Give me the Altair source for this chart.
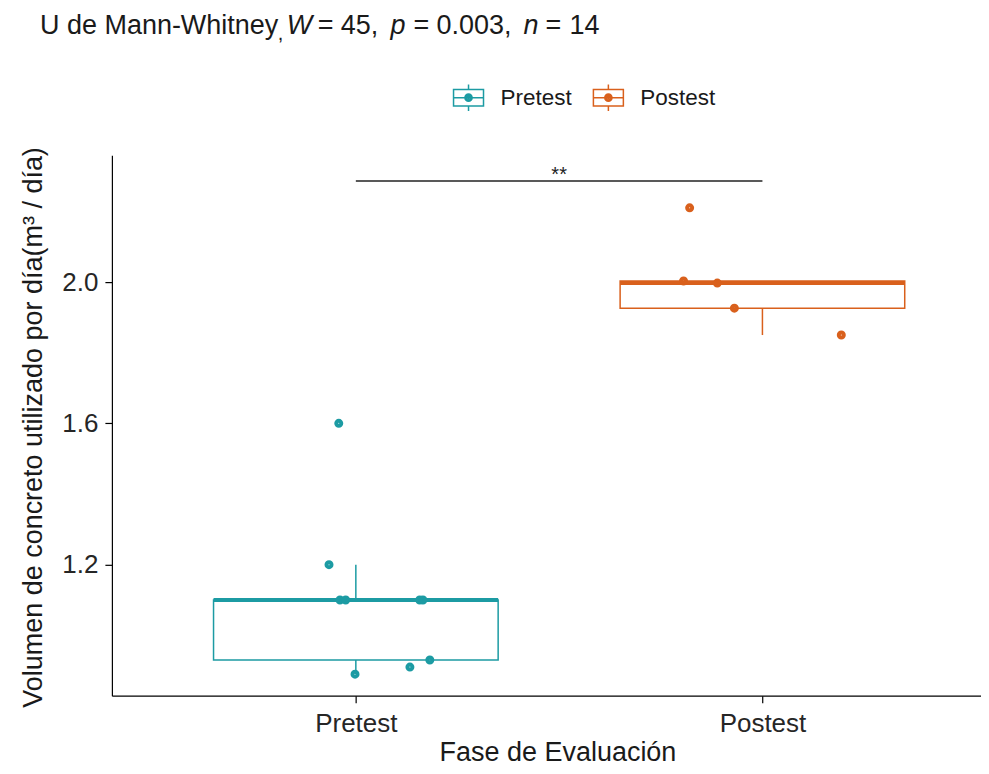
import altair as alt
import numpy as np
import pandas as pd

# ---------------- data ----------------
fases = ["Pretest", "Postest"]
colores = ["#1C9BA3", "#D9601C"]
posiciones = [1, 2]

pre_vol = [1.60, 1.20, 1.10, 1.10, 1.10, 1.10, 0.93, 0.91, 0.89]
pre_jit = [0.958, 0.934, 0.961, 0.975, 1.157, 1.165, 1.182, 1.133, 0.998]
post_vol = [2.21, 2.003, 1.997, 1.926, 1.85]
post_jit = [1.821, 1.806, 1.889, 1.931, 2.194]

y_ticks = [1.2, 1.6, 2.0]
bracket_y = [2.286]
signif = "**"

FONT = "Liberation Sans"
PAD_L, PAD_T, PAD_B = 104, 147, 70
W, H = 870, 541
X0 = 0.4
X1 = X0 + W / 407.0
Y0, Y1 = 0.829, 2.359

# ---------------- tables ----------------
pts = pd.DataFrame({
    "fase": ["Pretest"] * len(pre_vol) + ["Postest"] * len(post_vol),
    "vol": pre_vol + post_vol,
    "pos": pre_jit + post_jit,
})


def resumen(vals, pos, fase):
    v = np.array(vals)
    q1, med, q3 = np.percentile(v, [25, 50, 75])
    iqr = q3 - q1
    lo = v[v >= q1 - 1.5 * iqr].min()
    hi = v[v <= q3 + 1.5 * iqr].max()
    return dict(fase=fase, pos=pos, x1=pos - 0.35, x2=pos + 0.35,
                q1=q1, med=med, q3=q3, lo=lo, hi=hi)


box_df = pd.DataFrame([resumen(pre_vol, posiciones[0], fases[0]),
                       resumen(post_vol, posiciones[1], fases[1])])

br_df = pd.DataFrame({"x1": [posiciones[0]], "x2": [posiciones[1]],
                      "xm": [(posiciones[0] + posiciones[1]) / 2],
                      "y": bracket_y, "lab": [signif]})

# ---------------- scales / axes ----------------
xs = alt.Scale(domain=[X0, X1], nice=False, zero=False)
ys = alt.Scale(domain=[Y0, Y1], nice=False, zero=False)
cs = alt.Scale(domain=fases, range=colores)

x_axis = alt.Axis(values=posiciones,
                  labelExpr="datum.value == 1 ? 'Pretest' : 'Postest'",
                  title="Fase de Evaluación", titleX=446, titleY=57,
                  titleAlign="center", titleBaseline="middle",
                  labelPadding=8, tickSize=7)
y_axis = alt.Axis(values=y_ticks, format=".1f",
                  title="Volumen de concreto utilizado por día(m³ / día)",
                  titleX=-78, titleY=272, titleAngle=270,
                  titleAlign="center", titleBaseline="middle",
                  labelPadding=7, tickSize=7)

box_path = ("M-1,-0.55 L1,-0.55 L1,0.55 L-1,0.55 Z "
            "M-1,0 L1,0 M0,-0.55 L0,-0.88 M0,0.55 L0,0.88 "
            "M0.24,0 A0.24,0.24 0 1,1 -0.24,0 A0.24,0.24 0 1,1 0.24,0 "
            "M0.15,0 A0.15,0.15 0 1,1 -0.15,0 A0.15,0.15 0 1,1 0.15,0 "
            "M0.06,0 A0.06,0.06 0 1,1 -0.06,0 A0.06,0.06 0 1,1 0.06,0")

leg = alt.Legend(title=None, orient="none", direction="horizontal",
                 legendX=341, legendY=-74, symbolType=box_path,
                 symbolSize=900, symbolStrokeWidth=1.5,
                 symbolFillColor="transparent",
                 labelFont=FONT, labelFontSize=22.5, labelColor="#1a1a1a",
                 labelOffset=16, columnPadding=18, padding=0)

stroke_enc = alt.Stroke("fase:N", scale=cs, legend=leg)

base_box = alt.Chart(box_df)

box = base_box.mark_rect(filled=False, strokeWidth=1.5).encode(
    x=alt.X("x1:Q", scale=xs, axis=x_axis), x2="x2:Q",
    y=alt.Y("q1:Q", scale=ys, axis=y_axis), y2="q3:Q",
    stroke=stroke_enc,
)
wh_up = base_box.mark_rule(strokeWidth=1.5).encode(
    x=alt.X("pos:Q", scale=xs), y=alt.Y("q3:Q", scale=ys), y2="hi:Q",
    stroke=stroke_enc,
)
wh_lo = base_box.mark_rule(strokeWidth=1.5).encode(
    x=alt.X("pos:Q", scale=xs), y=alt.Y("lo:Q", scale=ys), y2="q1:Q",
    stroke=stroke_enc,
)
med = base_box.mark_rule(strokeWidth=4).encode(
    x=alt.X("x1:Q", scale=xs), x2="x2:Q", y=alt.Y("med:Q", scale=ys),
    stroke=stroke_enc,
)
points = alt.Chart(pts).mark_point(shape="circle", filled=False, size=16,
                                   strokeWidth=5, opacity=1).encode(
    x=alt.X("pos:Q", scale=xs), y=alt.Y("vol:Q", scale=ys),
    stroke=stroke_enc,
)
bracket = alt.Chart(br_df).mark_rule(color="#222222", strokeWidth=1.5).encode(
    x=alt.X("x1:Q", scale=xs), x2="x2:Q", y=alt.Y("y:Q", scale=ys),
)
stars = alt.Chart(br_df).mark_text(font=FONT, fontSize=20, color="#222222",
                                   baseline="bottom", dy=4).encode(
    x=alt.X("xm:Q", scale=xs), y=alt.Y("y:Q", scale=ys), text="lab:N",
)

# ---------------- title pieces ----------------
dummy = pd.DataFrame({"a": [0]})
title_parts = [
    ("U de Mann-Whitney", "normal", 40, 0, 27),
    (",", "normal", 278, 6, 20),
    ("W", "italic", 287, 0, 27),
    ("=", "normal", 318, 0, 27),
    ("45,", "normal", 341, 0, 27),
    ("p", "italic", 391, 0, 27),
    ("=", "normal", 414, 0, 27),
    ("0.003,", "normal", 437, 0, 27),
    ("n", "italic", 524, 0, 27),
    ("=", "normal", 546, 0, 27),
    ("14", "normal", 570, 0, 27),
]
tlayers = []
for txt, style, px, dy, fs in title_parts:
    tlayers.append(
        alt.Chart(dummy).mark_text(text=txt, font=FONT, fontSize=fs,
                                   fontStyle=style, color="#1a1a1a",
                                   align="left", baseline="alphabetic",
                                   dy=dy).encode(
            x=alt.value(px - 8 - PAD_L), y=alt.value(34 - 8 - PAD_T))
    )

chart = alt.layer(box, wh_up, wh_lo, med, points, bracket, stars, *tlayers).properties(
    width=W, height=H,
    autosize=alt.AutoSizeParams(type="none"),
    padding={"left": PAD_L, "top": PAD_T, "right": 0, "bottom": PAD_B},
    background="white",
).configure_view(stroke=None).configure_axis(
    grid=False, domainColor="black", domainWidth=1.2, tickColor="black",
    tickWidth=1.2, labelFont=FONT, labelFontSize=26, labelColor="#262626",
    titleFont=FONT, titleFontSize=27, titleFontWeight="normal",
    titleColor="#1a1a1a",
)

chart.save("out.html", embed_options={"renderer": "svg", "actions": False})
